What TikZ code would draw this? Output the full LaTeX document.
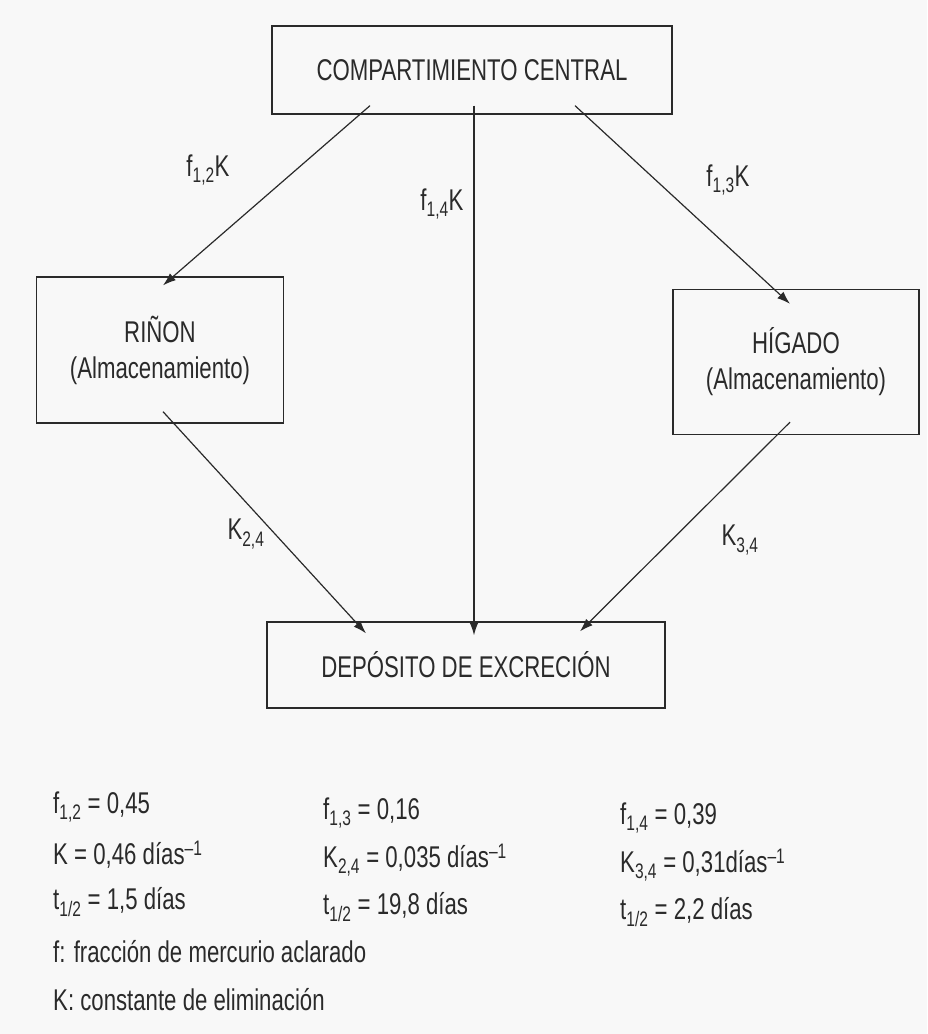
\documentclass[tikz,border=0pt]{standalone}
\usepackage{fontspec}
\setmainfont{Liberation Sans}[FakeStretch=0.74]
\usetikzlibrary{calc,arrows.meta}

\definecolor{ink}{HTML}{2A2A2A}
\definecolor{paper}{HTML}{F8F8F8}

\tikzset{
  compbox/.style={draw=ink, line width=1.3pt, rectangle, inner sep=0pt,
    align=center, text=ink, font=\fontsize{30}{36}\selectfont},
  flow/.style={draw=ink, line width=1.2pt,
    -{Latex[length=13pt,width=9pt]}},
  rate/.style={text=ink, font=\fontsize{30}{36}\selectfont, inner sep=0pt},
  legend/.style={text=ink, font=\fontsize{30}{36}\selectfont, inner sep=0pt,
    anchor=west}
}

\begin{document}
\begin{tikzpicture}[x=1pt,y=-1pt]
  % page
  \fill[paper] (0,0) rectangle (927,1034);
  \useasboundingbox (0,0) rectangle (927,1034);

  % compartments
  \node[compbox, minimum width=400pt, minimum height=88pt] (central) at (472,70)
    {COMPARTIMIENTO CENTRAL};
  \node[compbox, minimum width=247pt, minimum height=146pt] (rinon) at (160,350)
    {RIÑON\\(Almacenamiento)};
  \node[compbox, minimum width=246pt, minimum height=145pt] (higado) at (796,362)
    {HÍGADO\\(Almacenamiento)};
  \node[compbox, minimum width=398pt, minimum height=86pt] (deposito) at (466,665)
    {DEPÓSITO DE EXCRECIÓN};

  % transfer paths
  \draw[flow] ($(central.south)+(-102,-9)$) -- ($(rinon.north)+(3,9)$);
  \draw[flow] ($(central.south)+(2,-9)$) -- ($(deposito.north)+(8,14)$);
  \draw[flow] ($(central.south)+(103,-9)$) -- ($(higado.north)+(-6,15)$);
  \draw[flow] ($(rinon.south)+(3,-12)$) -- ($(deposito.north)+(-100,12)$);
  \draw[flow] ($(higado.south)+(-6,-13)$) -- ($(deposito.north)+(114,10)$);

  % rate labels
  \node[rate] (l12) at (208,170) {f\textsubscript{1,2}K};
  \node[rate] (l14) at (442,204) {f\textsubscript{1,4}K};
  \node[rate] (l13) at (728,180) {f\textsubscript{1,3}K};
  \node[rate] (l24) at (246,534) {K\textsubscript{2,4}};
  \node[rate] (l34) at (740,540) {K\textsubscript{3,4}};

  % parameter table
  \node[legend] (p12) at (53,807) {f\textsubscript{1,2} = 0,45};
  \node[legend] (k1)  at (53,855) {K = 0,46 días\textsuperscript{–1}};
  \node[legend] (t1)  at (53,902) {t\textsubscript{1/2} = 1,5 días};
  \node[legend] (p13) at (323,813) {f\textsubscript{1,3} = 0,16};
  \node[legend] (k24) at (323,860) {K\textsubscript{2,4} = 0,035 días\textsuperscript{–1}};
  \node[legend] (t2)  at (323,907) {t\textsubscript{1/2} = 19,8 días};
  \node[legend] (p14) at (620,818) {f\textsubscript{1,4} = 0,39};
  \node[legend] (k34) at (620,865) {K\textsubscript{3,4} = 0,31días\textsuperscript{–1}};
  \node[legend] (t3)  at (620,912) {t\textsubscript{1/2} = 2,2 días};
  \node[legend] (nf)  at (53,952) {f: fracción de mercurio aclarado};
  \node[legend] (nk)  at (53,1000) {K: constante de eliminación};
\end{tikzpicture}
\end{document}
